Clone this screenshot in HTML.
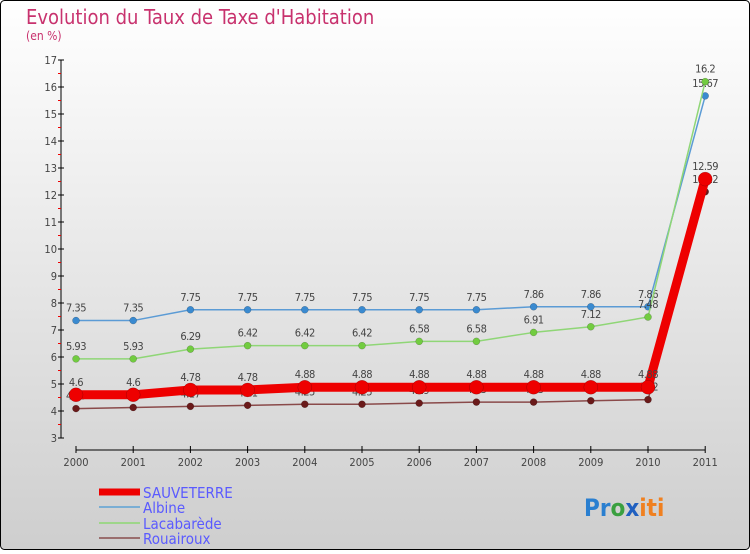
<!DOCTYPE html>
<html><head><meta charset="utf-8"><style>
body{margin:0;width:750px;height:550px;overflow:hidden;font-family:"DejaVu Sans Condensed","Liberation Sans Narrow","Liberation Sans",sans-serif}
</style></head><body>
<svg id="c" width="750" height="550" xmlns="http://www.w3.org/2000/svg">
<defs><linearGradient id="bg" x1="0" y1="0" x2="0" y2="1"><stop offset="0" stop-color="#ffffff"/><stop offset="1" stop-color="#cecece"/></linearGradient></defs>
<rect x="0.5" y="0.5" width="749" height="549" rx="4" fill="url(#bg)" stroke="#000"/>
<text x="26" y="24" font-size="20" fill="#c8326e">Evolution du Taux de Taxe d'Habitation</text>
<text x="26" y="40" font-size="12" fill="#c8326e">(en %)</text>
<g id="axes"></g><g id="series"></g>
<g>
<line x1="99" y1="492" x2="140" y2="492" stroke="#e00" stroke-width="7"/>
<text x="143" y="498" font-size="15" fill="#5a5aff">SAUVETERRE</text>
<line x1="99" y1="507" x2="140" y2="507" stroke="#7aaed4" stroke-width="2"/>
<text x="143" y="513" font-size="15" fill="#5a5aff">Albine</text>
<line x1="99" y1="523" x2="140" y2="523" stroke="#9ed68a" stroke-width="2"/>
<text x="143" y="529" font-size="15" fill="#5a5aff">Lacabarède</text>
<line x1="99" y1="538" x2="140" y2="538" stroke="#9a6e6e" stroke-width="2"/>
<text x="143" y="544" font-size="15" fill="#5a5aff">Rouairoux</text>
</g>
<text x="584" y="516" font-size="24" font-weight="bold"><tspan fill="#2a7fd0">Pr</tspan><tspan fill="#3aa040">o</tspan><tspan fill="#2060c0">x</tspan><tspan fill="#f08020">iti</tspan></text>
</svg>
<script>
const years=["2000","2001","2002","2003","2004","2005","2006","2007","2008","2009","2010","2011"];
const yTicks=[3,4,5,6,7,8,9,10,11,12,13,14,15,16,17];
const sauveterre=[4.6,4.6,4.78,4.78,4.88,4.88,4.88,4.88,4.88,4.88,4.88,12.59];
const albine=[7.35,7.35,7.75,7.75,7.75,7.75,7.75,7.75,7.86,7.86,7.86,15.67];
const lacabarede=[5.93,5.93,6.29,6.42,6.42,6.42,6.58,6.58,6.91,7.12,7.48,16.2];
const rouairoux=[4.09,4.13,4.17,4.21,4.25,4.25,4.29,4.33,4.33,4.38,4.42,12.12];
const NS="http://www.w3.org/2000/svg";
const xs=i=>76+i*57.2, ys=v=>438-(v-3)*27;
function mk(p,t,a){const e=document.createElementNS(NS,t);for(const k in a)e.setAttribute(k,a[k]);p.appendChild(e);return e;}
const ax=document.getElementById('axes');
const yAxis=mk(ax,'line',{x1:61,y1:ys(17),x2:61,y2:ys(3),stroke:'#000'});


yTicks.forEach(v=>{mk(ax,'line',{x1:58,x2:64,y1:ys(v),y2:ys(v),stroke:'#000'});
 if(v<17)mk(ax,'line',{x1:58,x2:61,y1:ys(v+0.5),y2:ys(v+0.5),stroke:'#e00'});
 const t=mk(ax,'text',{x:57,y:ys(v)+4,'font-size':11,'text-anchor':'end',fill:'#444'});t.textContent=v;
 
 });
const xAxis=mk(ax,'line',{x1:xs(0),y1:450,x2:xs(11),y2:450,stroke:'#000'});


years.forEach((y,i)=>{mk(ax,'line',{x1:xs(i),x2:xs(i),y1:446,y2:453,stroke:'#000'});
 const t=mk(ax,'text',{x:xs(i),y:466,'font-size':11,'text-anchor':'middle',fill:'#444'});t.textContent=y;
 
 });
const sg=document.getElementById('series');
function draw(name,data,color,w,r,mc){
 const g=mk(sg,'g',{});
 
 
 mk(g,'polyline',{points:data.map((v,i)=>xs(i)+','+ys(v)).join(' '),fill:'none',stroke:color,'stroke-width':w,'stroke-linejoin':'round'});
 data.forEach((v,i)=>{const c=mk(g,'circle',{cx:xs(i),cy:ys(v),r:r,fill:mc,stroke:'rgba(0,0,0,0.3)','stroke-width':0.5});
  
  
  const t=mk(g,'text',{x:xs(i),y:ys(v)-9,'font-size':11,'text-anchor':'middle',fill:'#444','letter-spacing':'-0.5'});t.textContent=v;
  
  });
}
draw('albine',albine,'#5b9bd5',1.5,3.5,'#3a8ad0');
draw('lacabarede',lacabarede,'#8fd676',1.5,3.5,'#72cc40');
draw('rouairoux',rouairoux,'#8a4a4a',1.5,3.5,'#6a1a1a');
draw('sauveterre',sauveterre,'#ee0000',9,7,'#ee0000');
</script>
</body></html>
